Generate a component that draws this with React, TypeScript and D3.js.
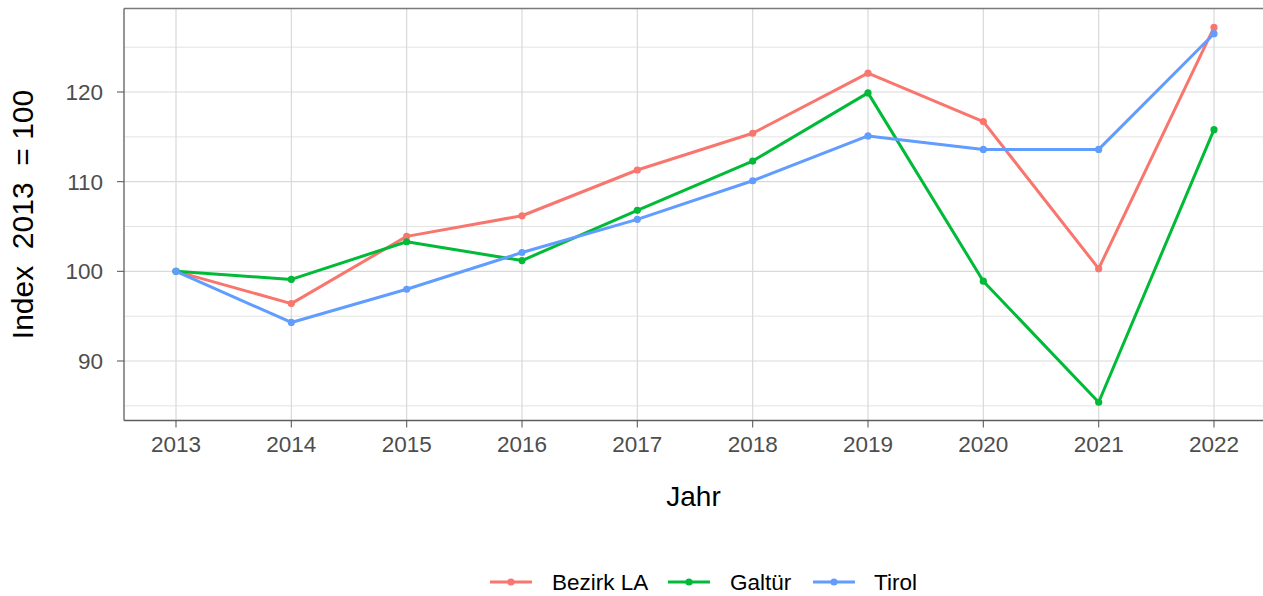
import React from "react";
import * as d3 from "d3";

const years = [2013, 2014, 2015, 2016, 2017, 2018, 2019, 2020, 2021, 2022];
const bezirkLA = [100, 96.4, 103.9, 106.2, 111.3, 115.4, 122.1, 116.7, 100.3, 127.2];
const galtuer = [100, 99.1, 103.3, 101.2, 106.8, 112.3, 119.9, 98.9, 85.4, 115.8];
const tirol = [100, 94.3, 98.0, 102.1, 105.8, 110.1, 115.1, 113.6, 113.6, 126.5];
const seriesNames = ["Bezirk LA", "Galtür", "Tirol"];
const seriesColors = ["#F8766D", "#00BA38", "#619CFF"];
const yMajor = [90, 100, 110, 120];
const yMinor = [85, 95, 105, 115, 125];

const W = 1263;
const H = 596;
const panel = { left: 124, right: 1263, top: 8.5, bottom: 420.5 };

export default function App() {
  const x = d3.scaleLinear().domain([2013, 2022]).range([176, 1214]);
  const y = d3.scaleLinear().domain([90, 120]).range([361, 92]);
  const series = [bezirkLA, galtuer, tirol];
  const line = d3
    .line<number>()
    .x((_, i) => x(years[i]))
    .y((d) => y(d));
  const font = "'Liberation Sans', Arial, sans-serif";

  const legendItems = [
    { keyX: 490, textX: 552 },
    { keyX: 668, textX: 730 },
    { keyX: 813, textX: 874 },
  ];
  const legendY = 582;

  return (
    <svg
      width={W}
      height={H}
      style={{ position: "absolute", left: 0, top: 0, background: "#fff" }}
      fontFamily={font}
    >
      <rect x={0} y={0} width={W} height={H} fill="#fff" />
      {yMinor.map((v) => (
        <line key={"mn" + v} x1={panel.left} x2={panel.right} y1={y(v)} y2={y(v)} stroke="#E0E0E0" strokeWidth={0.9} />
      ))}
      {yMajor.map((v) => (
        <line key={"mj" + v} x1={panel.left} x2={panel.right} y1={y(v)} y2={y(v)} stroke="#D9D9D9" strokeWidth={1.2} />
      ))}
      {years.map((yr) => (
        <line key={"vx" + yr} x1={x(yr)} x2={x(yr)} y1={panel.top} y2={panel.bottom} stroke="#D9D9D9" strokeWidth={1.2} />
      ))}
      {/* axis lines */}
      <line x1={panel.left} x2={panel.right} y1={panel.top} y2={panel.top} stroke="#7A7A7A" strokeWidth={1.3} />
      <line x1={panel.left} x2={panel.left} y1={panel.top} y2={panel.bottom} stroke="#5E5E5E" strokeWidth={1.3} />
      <line x1={panel.left} x2={panel.right} y1={panel.bottom} y2={panel.bottom} stroke="#5E5E5E" strokeWidth={1.3} />
      {/* y ticks */}
      {yMajor.map((v) => (
        <g key={"yt" + v}>
          <line x1={117} x2={panel.left} y1={y(v)} y2={y(v)} stroke="#5E5E5E" strokeWidth={1.1} />
          <text x={103} y={y(v)} dy="0.36em" textAnchor="end" fontSize={22.5} fill="#4D4D4D">
            {v}
          </text>
        </g>
      ))}
      {/* x ticks */}
      {years.map((yr) => (
        <g key={"xt" + yr}>
          <line x1={x(yr)} x2={x(yr)} y1={panel.bottom} y2={panel.bottom + 7} stroke="#5E5E5E" strokeWidth={1.1} />
          <text x={x(yr)} y={452} textAnchor="middle" fontSize={22.5} fill="#4D4D4D">
            {yr}
          </text>
        </g>
      ))}
      {/* series */}
      {series.map((s, si) => (
        <g key={"s" + si}>
          <path d={line(s) || ""} fill="none" stroke={seriesColors[si]} strokeWidth={3} strokeLinejoin="round" />
          {s.map((v, i) => (
            <circle key={i} cx={x(years[i])} cy={y(v)} r={3.6} fill={seriesColors[si]} />
          ))}
        </g>
      ))}
      {/* axis titles */}
      <text x={(panel.left + panel.right) / 2} y={506} textAnchor="middle" fontSize={28} fill="#000">
        Jahr
      </text>
      <text
        transform={`translate(33, ${(panel.top + panel.bottom) / 2}) rotate(-90)`}
        textAnchor="middle"
        fontSize={30}
        fill="#000"
        style={{ whiteSpace: "pre" }}
      >
        {"Index  2013  = 100"}
      </text>
      {/* legend */}
      {legendItems.map((it, i) => (
        <g key={"lg" + i}>
          <line x1={it.keyX} x2={it.keyX + 42} y1={legendY} y2={legendY} stroke={seriesColors[i]} strokeWidth={3} />
          <circle cx={it.keyX + 21} cy={legendY} r={3.6} fill={seriesColors[i]} />
          <text x={it.textX} y={legendY} dy="0.36em" fontSize={22.5} fill="#000">
            {seriesNames[i]}
          </text>
        </g>
      ))}
    </svg>
  );
}
